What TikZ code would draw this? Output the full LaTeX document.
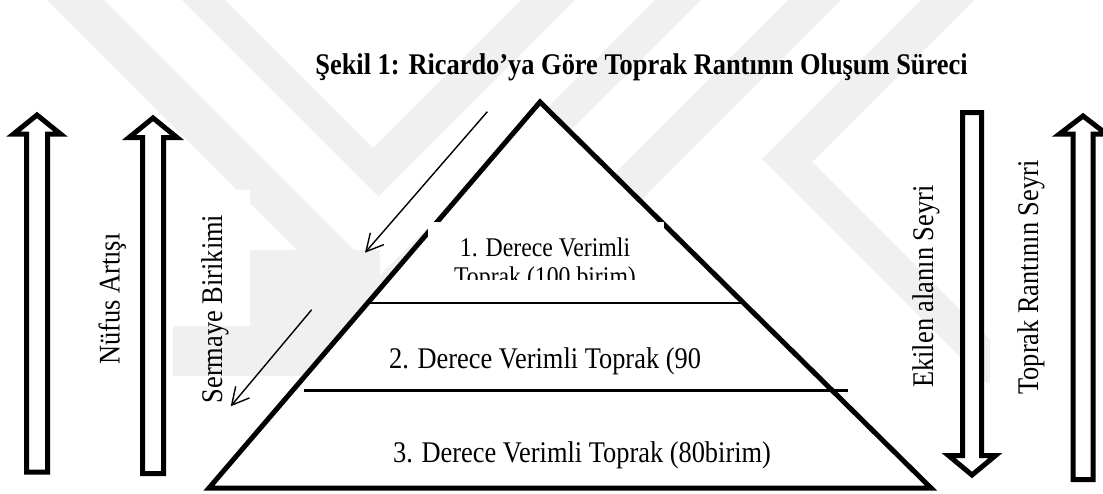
\documentclass[tikz,border=0pt]{standalone}
\usepackage{fontspec}
\setmainfont{Liberation Serif}[FakeStretch=0.88]
\usetikzlibrary{arrows.meta}
\begin{document}
\begin{tikzpicture}[x=1pt,y=-1pt,
  emblem/.style={fill=black!6,draw=none},
  blockarrow/.style={draw=black,line width=5pt,line join=miter,fill=white},
  pyramid/.style={draw=black,line width=5pt,line join=miter,fill=white},
  tierline/.style={draw=black,line width=2.6pt},
  thinarrow/.style={draw=black,line width=1.4pt,
    -{Straight Barb[length=17pt,width=18pt,line width=1.4pt]}},
  txt/.style={font=\fontsize{30}{34}\selectfont,inner sep=0pt,anchor=base},
  smalltxt/.style={font=\fontsize{27}{30}\selectfont,inner sep=0pt,anchor=base},
  sidetxt/.style={txt,rotate=90}]

\fill[white] (0,0) rectangle (1103,493);
\useasboundingbox (0,0) rectangle (1103,493);

% faint background emblem
\fill[emblem] (47,0) -- (104,0) -- (379.5,275.5) -- (655,0) -- (701,0) -- (374,327) -- cycle;
\fill[emblem] (182,0) -- (225,0) -- (373,148) -- (521,0) -- (575,0) -- (378.5,196.5) -- cycle;
\fill[emblem] (173,250) rectangle (380,376);
\fill[emblem] (788,0) -- (841,0) -- (581,260) -- (528,260) -- cycle;
\fill[emblem] (921,0) -- (974,0) -- (812,162) -- (990,340) -- (990,383) -- (986,383) -- (762,159) -- cycle;

% white ground behind the rotated label
\fill[white] (172,190) rectangle (250,326);

% hollow block arrows
\draw[blockarrow] (37,115) -- (60.5,134) -- (47.5,134) -- (47.5,472)
  -- (26.5,472) -- (26.5,134) -- (13.5,134) -- cycle;
\draw[blockarrow] (153,118) -- (177,137.5) -- (163.5,137.5) -- (163.5,473.5)
  -- (142.5,473.5) -- (142.5,137.5) -- (129,137.5) -- cycle;
\draw[blockarrow] (972,475) -- (995.5,455.5) -- (981.5,455.5) -- (981.5,112.5)
  -- (962.5,112.5) -- (962.5,455.5) -- (948.5,455.5) -- cycle;
\draw[blockarrow] (1083,116) -- (1106.5,134) -- (1093,134) -- (1093,479.5)
  -- (1073,479.5) -- (1073,134) -- (1059.5,134) -- cycle;

% the pyramid and its tiers
\coordinate (apex) at (540,102);
\coordinate (baseL) at (209,488);
\coordinate (baseR) at (931,488);
\draw[pyramid] (apex) -- (baseR) -- (baseL) -- cycle;
\coordinate (t1L) at (366,303);
\coordinate (t1R) at (745,303);
\coordinate (t2L) at (304,390.5);
\coordinate (t2R) at (848,390.5);
\draw[tierline] (t1L) -- (t1R);
\draw[tierline,line width=2.4pt] (t2L) -- (t2R);

% top tier label on a white box that trims the second line
\fill[white] (428,222) rectangle (664,279);
\begin{scope}
  \clip (428,222) rectangle (664,279);
  \node[smalltxt] (tierOneA) at (545,256) {1. Derece Verimli};
  \node[smalltxt] (tierOneB) at (545,285) {Toprak (100 birim)};
\end{scope}
\node[txt] (tierTwo) at (545,368) {2. Derece Verimli Toprak (90};
\node[txt] (tierThree) at (582,462) {3. Derece Verimli Toprak (80birim)};

% title
\node[txt,font=\fontsize{30}{34}\selectfont\bfseries] (title) at (641.5,74)
  {Şekil 1: Ricardo’ya Göre Toprak Rantının Oluşum Süreci};

% side labels
\node[sidetxt] (nufus) at (119.5,299) {Nüfus Artışı};
\node[sidetxt] (sermaye) at (222,309) {Sermaye Birikimi};
\node[sidetxt] (ekilen) at (933,286.5) {Ekilen alanın Seyri};
\node[sidetxt] (rant) at (1038,277.5) {Toprak Rantının Seyri};

% thin arrows along the left slope
\coordinate (upStart) at (487.3,111.7);
\coordinate (upEnd) at (365,252.7);
\coordinate (lowStart) at (311.7,309.7);
\coordinate (lowEnd) at (230.7,406.3);
\draw[thinarrow] (upStart) -- (upEnd);
\draw[thinarrow] (lowStart) -- (lowEnd);
\end{tikzpicture}
\end{document}
